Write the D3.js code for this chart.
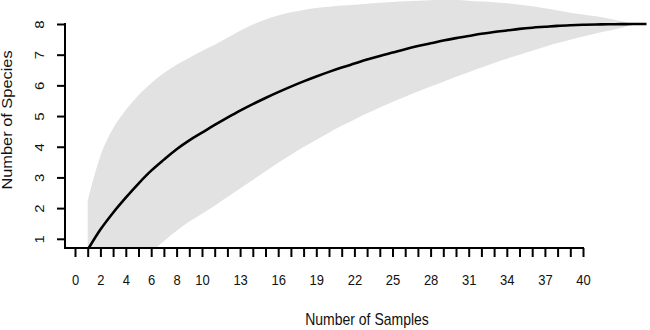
<!DOCTYPE html>
<html>
<head>
<meta charset="utf-8">
<script src="https://cdn.jsdelivr.net/npm/d3@7"></script>
<style>
  body { margin: 0; background: #fff; }
  svg { display: block; }
  text { font-family: "Liberation Sans", Arial, sans-serif; fill: #111; }
</style>
</head>
<body>
<svg id="graph1"></svg>
<script>
// samples 1..45
var samples = d3.range(1, 46)

var meanSpecies = [0.64, 1.3, 1.85, 2.34, 2.8, 3.22, 3.58, 3.92, 4.21, 4.46,
    4.71, 4.95, 5.18, 5.39, 5.59, 5.78, 5.96, 6.13, 6.29, 6.44,
    6.58, 6.71, 6.84, 6.96, 7.07, 7.18, 7.28, 7.37, 7.46, 7.54,
    7.61, 7.68, 7.74, 7.79, 7.84, 7.88, 7.91, 7.94, 7.96, 7.975,
    7.985, 7.99, 7.995, 8.0, 8.0]

var upperSpecies = [2.25, 3.7, 4.6, 5.2, 5.68, 6.07, 6.4, 6.67, 6.9, 7.12,
    7.32, 7.55, 7.78, 7.98, 8.15, 8.28, 8.38, 8.46, 8.52, 8.56,
    8.6, 8.63, 8.66, 8.69, 8.72, 8.74, 8.76, 8.77, 8.78, 8.78,
    8.76, 8.73, 8.71, 8.68, 8.63, 8.58, 8.51, 8.44, 8.37, 8.31,
    8.25, 8.18, 8.09, 8.0]

var lowerSpecies = [-1.6, -1.15, -0.7, -0.25, 0.17, 0.56, 0.92, 1.26, 1.56, 1.82,
    2.08, 2.36, 2.64, 2.92, 3.2, 3.48, 3.74, 3.99, 4.23, 4.46,
    4.68, 4.89, 5.09, 5.28, 5.46, 5.63, 5.8, 5.96, 6.12, 6.28,
    6.43, 6.58, 6.73, 6.87, 7.0, 7.13, 7.26, 7.38, 7.49, 7.59,
    7.69, 7.78, 7.87, 8.0]

var xTicks = d3.range(0, 41)
var xLabels = [0, 2, 4, 6, 8, 10, 13, 16, 19, 22, 25, 28, 31, 34, 37, 40]
var yTicks = [1, 2, 3, 4, 5, 6, 7, 8]

var screen = {width: 650, height: 330}
var axisX = 65      // where the y axis sits
var axisY = 248     // where the x axis sits

var svg = d3.select("#graph1")
    .attr("width", screen.width)
    .attr("height", screen.height)

var xScale = d3.scaleLinear()
    .domain([0, 40])
    .range([75, 583])

var yScale = d3.scaleLinear()
    .domain([0.7, 8])
    .range([axisY, 24])

svg.append("defs").append("clipPath")
    .attr("id", "plotClip")
    .append("rect")
    .attr("x", axisX)
    .attr("y", 0)
    .attr("width", screen.width - axisX)
    .attr("height", axisY)

var band = samples.slice(0, upperSpecies.length).map(function (s, i) {
    return {x: s, lo: lowerSpecies[i], hi: upperSpecies[i]}
})
var curve = samples.map(function (s, i) {
    return {x: s, y: meanSpecies[i]}
})

var plot = svg.append("g").attr("clip-path", "url(#plotClip)")

plot.append("path")
    .datum(band)
    .attr("d", d3.area()
        .x(function (d) { return xScale(d.x) })
        .y0(function (d) { return yScale(d.lo) })
        .y1(function (d) { return yScale(d.hi) })
        .curve(d3.curveMonotoneX))
    .attr("fill", "#e2e2e2")

plot.append("path")
    .datum(curve)
    .attr("d", d3.line()
        .x(function (d) { return xScale(d.x) })
        .y(function (d) { return yScale(d.y) })
        .curve(d3.curveMonotoneX))
    .attr("fill", "none")
    .attr("stroke", "#000")
    .attr("stroke-width", 2.6)

// x axis
var xAxis = d3.axisBottom(xScale)
    .tickValues(xTicks)
    .tickSize(9)
    .tickSizeOuter(0)
    .tickFormat(function (d) { return xLabels.indexOf(d) >= 0 ? d : "" })

var gx = svg.append("g")
    .attr("transform", "translate(0," + axisY + ")")
    .call(xAxis)
gx.select(".domain").remove()
gx.selectAll("line").attr("stroke", "#000").attr("stroke-width", 2)
gx.selectAll("text")
    .attr("y", 0)
    .attr("dy", 0)
    .attr("transform", "translate(0,37) scale(1,1.15)")
    .attr("font-size", 13)
gx.append("line")
    .attr("x1", axisX)
    .attr("x2", xScale(40) + 1)
    .attr("stroke", "#000")
    .attr("stroke-width", 2)

// y axis
var yAxis = d3.axisLeft(yScale)
    .tickValues(yTicks)
    .tickSize(8)
    .tickSizeOuter(0)

var gy = svg.append("g")
    .attr("transform", "translate(" + axisX + ",0)")
    .call(yAxis)
gy.select(".domain").remove()
gy.selectAll("line").attr("stroke", "#000").attr("stroke-width", 2)
gy.selectAll("text")
    .attr("x", 0)
    .attr("dy", 0)
    .attr("text-anchor", "middle")
    .attr("transform", "translate(-21,0) rotate(-90) scale(1.15,1)")
    .attr("font-size", 13)
gy.append("line")
    .attr("y1", yScale(8) - 1)
    .attr("y2", axisY + 1)
    .attr("stroke", "#000")
    .attr("stroke-width", 2)

// labels
svg.append("text")
    .text("Number of Samples")
    .attr("text-anchor", "middle")
    .attr("font-size", 14)
    .attr("transform", "translate(367,325) scale(1,1.15)")

svg.append("text")
    .text("Number of Species")
    .attr("text-anchor", "middle")
    .attr("font-size", 14)
    .attr("transform", "translate(12,120) rotate(-90) scale(1.17,1)")
</script>
</body>
</html>
